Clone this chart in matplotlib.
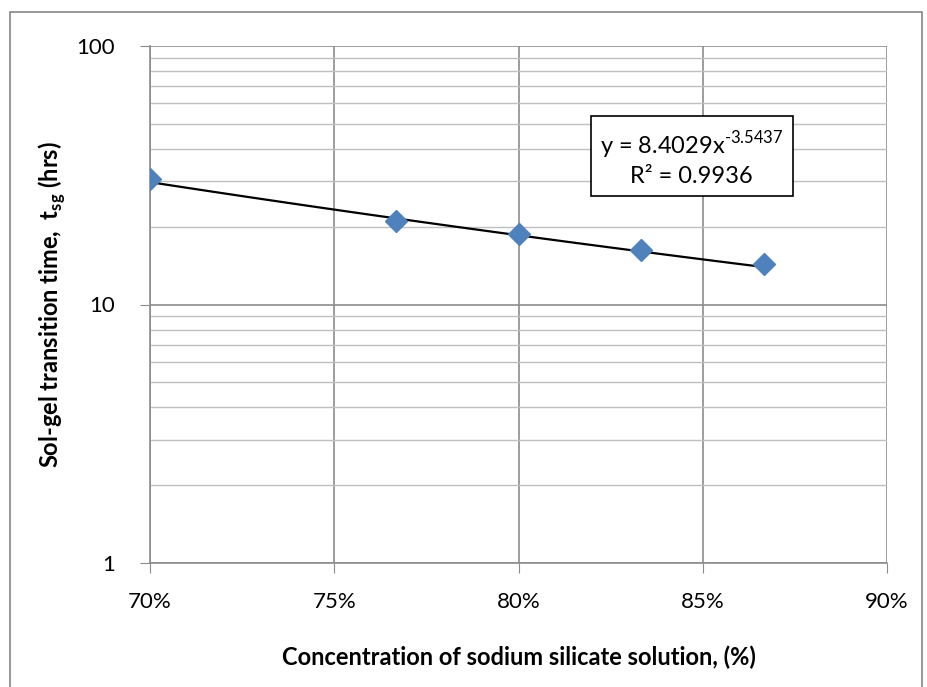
import matplotlib
matplotlib.use('Agg')
import matplotlib.pyplot as plt
from matplotlib.ticker import FixedLocator, NullFormatter, FuncFormatter
from matplotlib.patches import Rectangle
import numpy as np

# concentration (fraction) vs sol-gel transition time (hrs)
conc = [0.70, 0.7667, 0.80, 0.8333, 0.8667]
t_sg = [30.7, 21.0, 18.7, 16.3, 14.3]

# power trendline shown on chart
coef_a = 8.4029
coef_b = -3.5437
r2 = 0.9936

x_ticks = [0.70, 0.75, 0.80, 0.85, 0.90]
y_ticks = [1, 10, 100]

plt.rcParams['font.family'] = ['Lato', 'DejaVu Sans']
plt.rcParams['mathtext.fontset'] = 'custom'
plt.rcParams['mathtext.rm'] = 'Lato'
plt.rcParams['mathtext.bf'] = 'Lato:bold'

fig = plt.figure(figsize=(9.27, 6.87), dpi=100)
fig.patches.append(Rectangle((10 / 927, -0.01), 912 / 927, 1 - 12 / 687 + 0.01,
                             transform=fig.transFigure, fill=False,
                             edgecolor='#868686', lw=1.2))

ax = fig.add_axes([150 / 927, 1 - 563 / 687, (887 - 150) / 927, (563 - 46) / 687])
ax.set_yscale('log')
ax.set_xlim(0.70, 0.90)
ax.set_ylim(1, 100)

minor = [m * d for d in (1, 10) for m in range(2, 10)]
ax.yaxis.set_major_locator(FixedLocator(y_ticks))
ax.yaxis.set_minor_locator(FixedLocator(minor))
ax.yaxis.set_minor_formatter(NullFormatter())
ax.yaxis.set_major_formatter(FuncFormatter(lambda v, p: f'{v:g}'))
ax.xaxis.set_major_locator(FixedLocator(x_ticks))
ax.xaxis.set_major_formatter(FuncFormatter(lambda v, p: f'{v * 100:.0f}%'))

ax.grid(True, which='major', axis='x', color='#8c8c8c', lw=1.2)
ax.grid(True, which='major', axis='y', color='#8c8c8c', lw=1.2)
ax.grid(True, which='minor', axis='y', color='#bfbfbf', lw=1.0)
ax.set_axisbelow(True)

for s in ('top', 'right'):
    ax.spines[s].set_visible(False)
for s in ('left', 'bottom'):
    ax.spines[s].set_color('#8c8c8c')
    ax.spines[s].set_linewidth(1.2)

ax.tick_params(axis='both', which='major', direction='out', length=7,
               color='#8c8c8c', labelsize=16)
ax.tick_params(axis='y', which='minor', length=0)
ax.tick_params(axis='y', pad=18)
ax.tick_params(axis='x', pad=14)

# trendline
xs = np.linspace(conc[0], conc[-1], 100)
ax.plot(xs, coef_a * xs ** coef_b, color='black', lw=1.6, zorder=3)
ax.plot(conc, t_sg, linestyle='none', marker='D', markersize=11,
        color='#4f81bd', zorder=4)

ax.text(0.847, 37.0, f'y = {coef_a}x$^{{\\text{{{coef_b}}}}}$\nR² = {r2}',
        ha='center', va='center', fontsize=17, linespacing=1.3,
        bbox=dict(boxstyle='square,pad=0.4', facecolor='white',
                  edgecolor='black', lw=1.2),
        zorder=5)

ax.set_ylabel('Sol-gel transition time,  t$_{\\mathbf{sg}}$ (hrs)',
              fontsize=17, fontweight='bold', labelpad=6)
ax.set_xlabel('Concentration of sodium silicate solution, (%)',
              fontsize=17, fontweight='bold', labelpad=24)

fig.savefig('out.png', dpi=100)
